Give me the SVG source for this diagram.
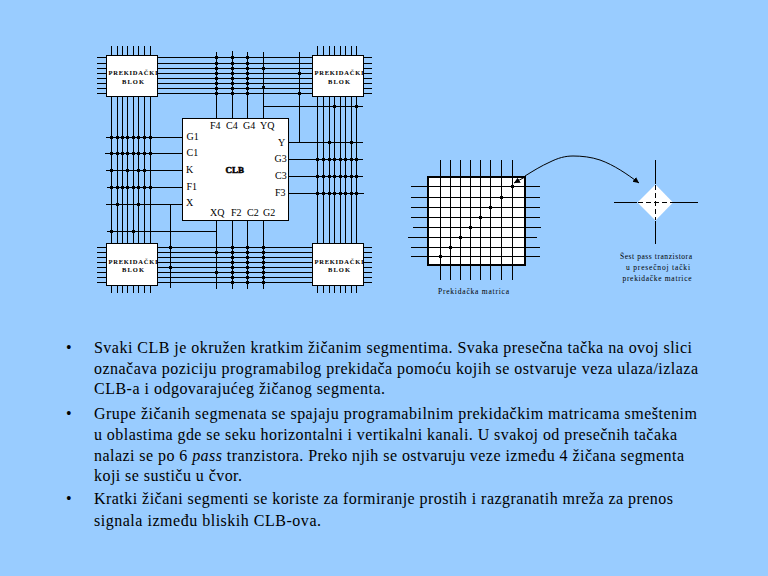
<svg xmlns="http://www.w3.org/2000/svg" width="768" height="576" viewBox="0 0 768 576">
<style>
text{font-family:"Liberation Serif","Times New Roman",serif;fill:#000}
.w{fill:none;stroke:#000;stroke-width:1}
.d{fill:none;stroke:#000;stroke-width:3;stroke-linecap:square}
.n{fill:#fff;stroke:#000;stroke-width:1}
.b{font-size:6.5px;font-weight:bold}
.p{font-size:10px}
.s{font-size:7.5px}
.t{font-size:16px}
</style>
<defs>
<marker id="ah" markerWidth="8" markerHeight="8" refX="6" refY="3" orient="auto" markerUnits="userSpaceOnUse"><path d="M0 0L6 3L0 6z" fill="#000"/></marker>
</defs>
<rect width="768" height="576" fill="#99CCFF"/>
<g id="connectors">
<path class="w" d="M111.5 46V293M117.5 46V293M122.5 46V293M127.5 46V293M133.5 46V293M138.5 46V293M144.5 46V293M150.5 46V293M317.5 46V293M323.5 46V293M329.5 46V293M334.5 46V293M340.5 46V293M345.5 46V293M351.5 46V293M356.5 46V293"/>
<path class="w" d="M97 57.5H372M97 63.5H372M97 68.5H372M97 73.5H372M97 78.5H372M97 83.5H372M97 88.5H372M97 93.5H372M97 247.5H372M97 252.5H372M97 257.5H372M97 262.5H372M97 267.5H372M97 272.5H372M97 277.5H372M97 282.5H372"/>
<path class="w" d="M216.5 52V119M232.5 51V119M247.5 52V119M263.5 52V119M299.5 52V143M263.5 106.5H363M288 142.5H363M288 159.5H363M288 176.5H363M288 193.5H364M106 137.5H183M105 153.5H183M106 170.5H183M107 187.5H183M106 204.5H183M170.5 204.5V288M107 231.5H216.5M216.5 220V289M232.5 220V289M247.5 220V289M263.5 220V289"/>
<path class="d" d="M216.5 57.5h0M216.5 63.5h0M216.5 68.5h0M216.5 73.5h0M216.5 78.5h0M216.5 83.5h0M216.5 88.5h0M216.5 93.5h0M232.5 57.5h0M232.5 63.5h0M232.5 68.5h0M232.5 73.5h0M232.5 78.5h0M232.5 83.5h0M232.5 88.5h0M232.5 93.5h0M247.5 57.5h0M247.5 63.5h0M247.5 68.5h0M247.5 73.5h0M247.5 78.5h0M247.5 83.5h0M247.5 88.5h0M247.5 93.5h0M263.5 68.5h0M263.5 87.5h0M299.5 73.5h0M299.5 93.5h0"/>
<path class="d" d="M216.5 252.5h0M216.5 272.5h0M232.5 247.5h0M232.5 252.5h0M232.5 257.5h0M232.5 262.5h0M232.5 267.5h0M232.5 272.5h0M232.5 277.5h0M232.5 282.5h0M247.5 247.5h0M247.5 252.5h0M247.5 257.5h0M247.5 262.5h0M247.5 267.5h0M247.5 272.5h0M247.5 277.5h0M247.5 282.5h0M263.5 247.5h0M263.5 252.5h0M263.5 257.5h0M263.5 262.5h0M263.5 267.5h0M263.5 272.5h0M263.5 277.5h0M263.5 282.5h0M170.5 247.5h0M170.5 267.5h0"/>
<path class="d" d="M334.5 106.5h0M356.5 106.5h0M329.5 142.5h0M351.5 142.5h0M317.5 159.5h0M323.5 159.5h0M329.5 159.5h0M334.5 159.5h0M340.5 159.5h0M345.5 159.5h0M351.5 159.5h0M356.5 159.5h0M317.5 176.5h0M323.5 176.5h0M329.5 176.5h0M334.5 176.5h0M340.5 176.5h0M345.5 176.5h0M351.5 176.5h0M356.5 176.5h0M317.5 193.5h0M323.5 193.5h0M329.5 193.5h0M334.5 193.5h0M340.5 193.5h0M345.5 193.5h0M351.5 193.5h0M356.5 193.5h0"/>
<path class="d" d="M111.5 137.5h0M117.5 137.5h0M122.5 137.5h0M127.5 137.5h0M133.5 137.5h0M138.5 137.5h0M144.5 137.5h0M150.5 137.5h0M111.5 153.5h0M117.5 153.5h0M122.5 153.5h0M127.5 153.5h0M133.5 153.5h0M138.5 153.5h0M144.5 153.5h0M150.5 153.5h0M111.5 170.5h0M127.5 170.5h0M138.5 170.5h0M144.5 170.5h0M111.5 187.5h0M117.5 187.5h0M122.5 187.5h0M127.5 187.5h0M133.5 187.5h0M138.5 187.5h0M144.5 187.5h0M150.5 187.5h0M117.5 204.5h0M138.5 204.5h0M111.5 231.5h0M133.5 231.5h0"/>
</g>
<g id="blok-tl"><rect class="n" x="106.5" y="55.5" width="51" height="41"/><text class="b" x="108.5" y="75" textLength="49" lengthAdjust="spacing">PREKIDAČKI</text><text class="b" x="122" y="84" textLength="22" lengthAdjust="spacing">BLOK</text></g>
<g id="blok-tr"><rect class="n" x="312.5" y="55.5" width="51" height="41"/><text class="b" x="314.5" y="75" textLength="49" lengthAdjust="spacing">PREKIDAČKI</text><text class="b" x="328" y="84" textLength="22" lengthAdjust="spacing">BLOK</text></g>
<g id="blok-bl"><rect class="n" x="106.5" y="243.5" width="51" height="42"/><text class="b" x="108.5" y="263.5" textLength="49" lengthAdjust="spacing">PREKIDAČKI</text><text class="b" x="122" y="272" textLength="22" lengthAdjust="spacing">BLOK</text></g>
<g id="blok-br"><rect class="n" x="312.5" y="243.5" width="51" height="42"/><text class="b" x="314.5" y="263.5" textLength="49" lengthAdjust="spacing">PREKIDAČKI</text><text class="b" x="328" y="272" textLength="22" lengthAdjust="spacing">BLOK</text></g>
<g id="clb">
<rect class="n" x="182.5" y="118.5" width="106" height="102"/>
<text class="p" x="210" y="129">F4</text><text class="p" x="226" y="129">C4</text><text class="p" x="243" y="129">G4</text><text class="p" x="260" y="129">YQ</text>
<text class="p" x="186.5" y="140">G1</text><text class="p" x="186.5" y="156">C1</text><text class="p" x="186" y="173">K</text><text class="p" x="186.5" y="189.5">F1</text><text class="p" x="186" y="206">X</text>
<text class="p" x="278" y="146">Y</text><text class="p" x="274.5" y="162">G3</text><text class="p" x="275" y="179">C3</text><text class="p" x="275" y="196">F3</text>
<text class="p" x="210" y="216">XQ</text><text class="p" x="231" y="216">F2</text><text class="p" x="247" y="216">C2</text><text class="p" x="263" y="216">G2</text>
<text x="225.5" y="172.5" font-size="9" font-weight="bold" stroke="#000" stroke-width=".5">CLB</text>
</g>
<g id="matrica">
<path class="w" d="M411 186.5H540M411 197.5H540M411 207.5H540M411 217.5H540M413 227.5H541M408 237.5H537M411 247.5H540M411 256.5H540M440.5 160V280M450.5 160V280M460.5 160V280M470.5 160V280M480.5 160V280M490.5 160V280M501.5 160V280M512.5 160V280"/>
<rect x="428" y="177" width="97" height="88" fill="#fff" stroke="#000" stroke-width="2"/>
<path class="w" d="M429 186.5H524M429 197.5H524M429 207.5H524M429 217.5H524M429 227.5H524M429 237.5H524M429 247.5H524M429 256.5H524M440.5 178V264M450.5 178V264M460.5 178V264M470.5 178V264M480.5 178V264M490.5 178V264M501.5 178V264M512.5 178V264"/>
<path class="d" d="M440.5 256.5h0M450.5 247.5h0M460.5 237.5h0M470.5 227.5h0M480.5 217.5h0M490.5 207.5h0M501.5 197.5h0M512.5 186.5h0"/>
<text class="s" x="438" y="294" textLength="71" lengthAdjust="spacing">Prekidačka matrica</text>
</g>
<g id="cvor">
<path class="w" d="M614 202.5H637M673 202.5H698M655.5 160V184M655.5 221V244"/>
<polygon points="655.5,184.5 673,202.5 655.5,220.5 637.5,202.5" fill="#fff"/>
<path class="w" stroke-dasharray="5 3" d="M638 202.5H673M655.5 185V220"/>
<text class="s" x="620" y="259" textLength="72" lengthAdjust="spacing">Šest pass tranzistora</text>
<text class="s" x="626" y="270" textLength="64" lengthAdjust="spacing">u presečnoj tački</text>
<text class="s" x="622.5" y="281" textLength="69" lengthAdjust="spacing">prekidačke matrice</text>
</g>
<g id="connectors-arrows">
<path class="w" d="M525 176C533 171 541 166 550 162C558 158 565 156 573 156C582 156 591 157 600 160C614 165 627 174 639 183" marker-end="url(#ah)"/>
<path class="w" d="M525 177L514 183" marker-end="url(#ah)"/>
</g>
<g id="tekst">
<text class="t" x="66" y="353">•</text>
<text class="t" x="94" y="353" textLength="598" lengthAdjust="spacing">Svaki CLB je okružen kratkim žičanim segmentima. Svaka presečna tačka na ovoj slici</text>
<text class="t" x="94" y="374" textLength="604" lengthAdjust="spacing">označava poziciju programabilog prekidača pomoću kojih se ostvaruje veza ulaza/izlaza</text>
<text class="t" x="94" y="394" textLength="291" lengthAdjust="spacing">CLB-a i odgovarajućeg žičanog segmenta.</text>
<text class="t" x="66" y="419">•</text>
<text class="t" x="94" y="419" textLength="603" lengthAdjust="spacing">Grupe žičanih segmenata se spajaju programabilnim prekidačkim matricama smeštenim</text>
<text class="t" x="94" y="440" textLength="583" lengthAdjust="spacing">u oblastima gde se seku horizontalni i vertikalni kanali. U svakoj od presečnih tačaka</text>
<text class="t" x="94" y="461" textLength="590" lengthAdjust="spacing">nalazi se po 6 <tspan font-style="italic">pass</tspan> tranzistora. Preko njih se ostvaruju veze između 4 žičana segmenta</text>
<text class="t" x="94" y="481" textLength="148" lengthAdjust="spacing">koji se sustiču u čvor.</text>
<text class="t" x="66" y="504">•</text>
<text class="t" x="94" y="504" textLength="579" lengthAdjust="spacing">Kratki žičani segmenti se koriste za formiranje prostih i razgranatih mreža za prenos</text>
<text class="t" x="94" y="526" textLength="227" lengthAdjust="spacing">signala između bliskih CLB-ova.</text>
</g>
</svg>
